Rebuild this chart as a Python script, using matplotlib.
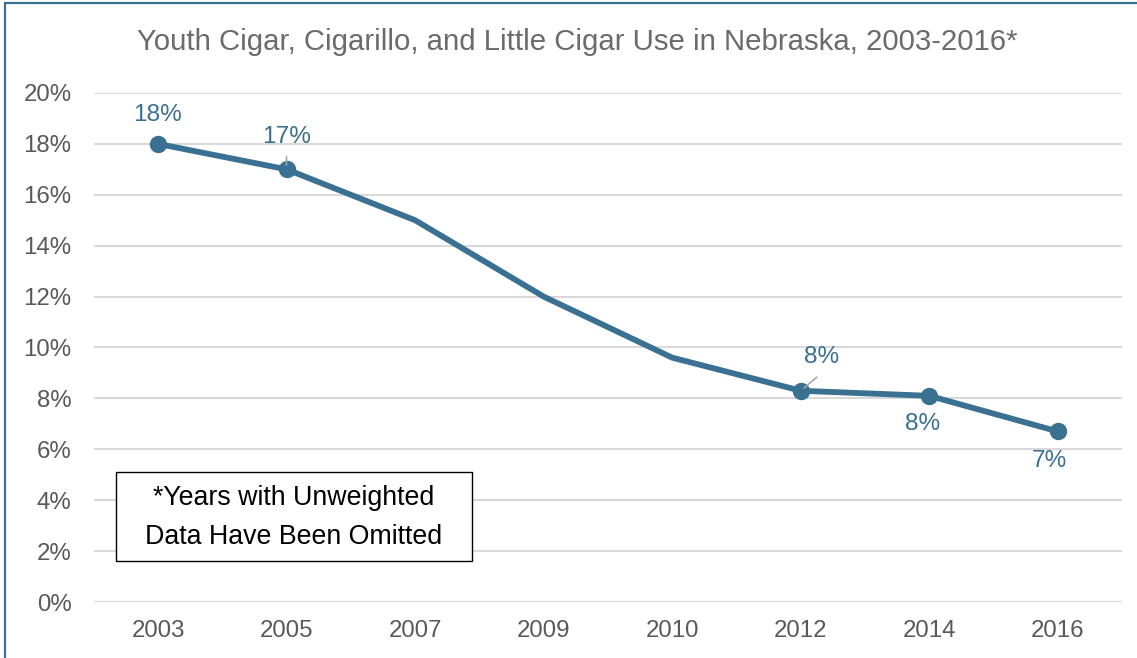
import matplotlib.pyplot as plt
from matplotlib.patches import Rectangle

years = ["2003", "2005", "2007", "2009", "2010", "2012", "2014", "2016"]
use_pct = [18.0, 17.0, 15.0, 12.0, 9.6, 8.3, 8.1, 6.7]
marked = [0, 1, 5, 6, 7]
point_labels = {0: "18%", 1: "17%", 5: "8%", 6: "8%", 7: "7%"}
yticks = [0, 2, 4, 6, 8, 10, 12, 14, 16, 18, 20]

blue = "#3a7192"
grey_text = "#595959"

plt.rcParams["font.family"] = ["Liberation Sans", "DejaVu Sans"]

fig = plt.figure(figsize=(11.37, 6.58), dpi=100)
ax = fig.add_axes([0.0824, 0.0851, 0.9046, 0.7736])

x = list(range(len(years)))
ax.plot(x, use_pct, color=blue, lw=4.2, marker="o", ms=11.5,
        markevery=marked, solid_capstyle="round", zorder=3)

ax.set_xlim(-0.5, len(years) - 0.5)
ax.set_ylim(0, 20)
ax.set_yticks(yticks)
ax.set_yticklabels([f"{t}%" for t in yticks])
ax.set_xticks(x)
ax.set_xticklabels(years)
ax.tick_params(length=0, labelsize=17.3, labelcolor=grey_text)
ax.tick_params(axis="x", pad=13)
ax.tick_params(axis="y", pad=16)
ax.grid(axis="y", color="#d9d9d9", lw=1.5)
ax.set_axisbelow(True)
for s in ax.spines.values():
    s.set_visible(False)

# data labels, offsets in points
offsets = {0: (0, 21), 1: (0, 23), 5: (15, 24), 6: (-5, -20), 7: (-6, -21)}
for i, lab in point_labels.items():
    dx, dy = offsets[i]
    ax.annotate(lab, (x[i], use_pct[i]), xytext=(dx, dy), textcoords="offset points",
                ha="center", va="center", fontsize=17.6, color=blue)

# leader lines for the two labels that sit off the line
ax.annotate("", (x[1], use_pct[1]), xytext=(0, 11), textcoords="offset points",
            arrowprops=dict(arrowstyle="-", color="#a6a6a6", lw=1.2, shrinkB=3))
ax.annotate("", (x[5], use_pct[5]), xytext=(13, 11), textcoords="offset points",
            arrowprops=dict(arrowstyle="-", color="#a6a6a6", lw=1.2, shrinkB=3))

fig.text(0.508, 0.936, "Youth Cigar, Cigarillo, and Little Cigar Use in Nebraska, 2003-2016*",
         ha="center", va="center", fontsize=21.2, color="#6b6b6b")

# footnote box
fig.patches.append(Rectangle((0.102, 0.1474), 0.3131, 0.1353, transform=fig.transFigure,
                             fc="white", ec="black", lw=1, zorder=5))
fig.text(0.2586, 0.213, "*Years with Unweighted\nData Have Been Omitted",
         ha="center", va="center", fontsize=19.3, color="black", linespacing=1.65,
         zorder=6)

fig.patches.append(Rectangle((5 / 1137, -0.05), 1.1, 1.05 - 2.5 / 658,
                             transform=fig.transFigure, fill=False,
                             ec="#3a7192", lw=1.6))

fig.savefig("out.png", dpi=100)
